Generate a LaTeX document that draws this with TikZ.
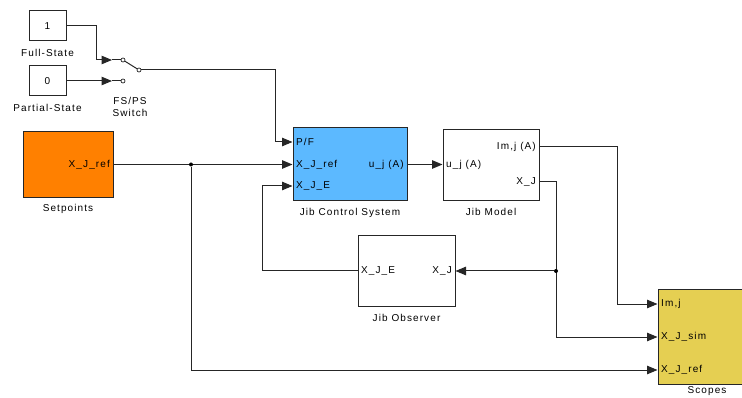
\documentclass[tikz,border=0pt]{standalone}
\usepackage{fontspec}
\setmainfont{Liberation Sans}
\newfontfamily\slfont[LetterSpace=11]{Liberation Sans}
\usetikzlibrary{arrows.meta,positioning}
\definecolor{spOrange}{RGB}{255,128,0}
\definecolor{ctrlBlue}{RGB}{92,185,255}
\definecolor{scopeYellow}{RGB}{229,207,82}
\tikzset{
  blk/.style={draw=black!85,line width=1pt,inner sep=0pt,font=\slfont\fontsize{10}{11}\selectfont},
  sig/.style={draw=black!85,line width=1pt,-{Triangle[length=10.5pt,width=8.5pt]}},
  wire/.style={draw=black!85,line width=1pt},
  port/.style={inner sep=3.5pt,font=\slfont\fontsize{10}{11}\selectfont},
  blklabel/.style={inner sep=1pt,font=\slfont\fontsize{10}{12}\selectfont},
  swpin/.style={circle,draw=black!85,line width=0.7pt,fill=white,inner sep=0pt,minimum size=4pt},
  jdot/.style={circle,fill=black,inner sep=0pt,minimum size=4pt}
}
\begin{document}
\begin{tikzpicture}[x=1pt,y=-1pt]
\clip (0,0) rectangle (742,398);
\node[blk,minimum width=37pt,minimum height=30pt] (full) at (47.5,26) {1};
\node[blk,minimum width=37pt,minimum height=30pt] (partial) at (47.5,81) {0};
\node[blklabel,below=7pt of full] {Full-State};
\node[blklabel,below=7pt of partial] {Partial-State};
\coordinate (sw-in1) at (112,60);
\coordinate (sw-in2) at (112,81);
\node[swpin] (sw-p1) at (123,60) {};
\node[swpin] (sw-p2) at (123,81) {};
\node[swpin] (sw-out) at (139,70) {};
\node[blklabel,align=center] (sw-lbl) at (130,106.5) {FS/PS\\Switch};
\node[blk,fill=spOrange,minimum width=90pt,minimum height=66pt] (sp) at (68,165) {};
\node[blklabel,below=5pt of sp] {Setpoints};
\node[blk,fill=ctrlBlue,minimum width=114pt,minimum height=73pt] (jcs) at (350,164.5) {};
\node[blklabel,below=6pt of jcs] {Jib Control System};
\node[blk,fill=white,minimum width=96pt,minimum height=71pt] (jm) at (491,165.5) {};
\node[blklabel,below=6pt of jm] {Jib Model};
\node[blk,fill=white,minimum width=97pt,minimum height=71pt] (jo) at (406.5,271) {};
\node[blklabel,below=6pt of jo] {Jib Observer};
\node[blk,fill=scopeYellow,minimum width=98pt,minimum height=94pt] (sc) at (707,337) {};
\node[blklabel,below=0.5pt of sc] {Scopes};
\node[port,anchor=east] (sp-ref) at (sp.east |- 0,164.5) {X\_J\_ref};
\node[port,anchor=west] (jcs-pf) at (jcs.west |- 0,142) {P/F};
\node[port,anchor=west] (jcs-ref) at (jcs.west |- 0,164.5) {X\_J\_ref};
\node[port,anchor=west] (jcs-e) at (jcs.west |- 0,186) {X\_J\_E};
\node[port,anchor=east] (jcs-u) at (jcs.east |- 0,164.5) {u\_j (A)};
\node[port,anchor=west] (jm-u) at (jm.west |- 0,164.5) {u\_j (A)};
\node[port,anchor=east] (jm-im) at (jm.east |- 0,147) {Im,j (A)};
\node[port,anchor=east] (jm-x) at (jm.east |- 0,182) {X\_J};
\node[port,anchor=west] (jo-e) at (jo.west |- 0,271) {X\_J\_E};
\node[port,anchor=east] (jo-x) at (jo.east |- 0,271) {X\_J};
\node[port,anchor=west] (sc-im) at (sc.west |- 0,304) {Im,j};
\node[port,anchor=west] (sc-sim) at (sc.west |- 0,337) {X\_J\_sim};
\node[port,anchor=west] (sc-ref) at (sc.west |- 0,370) {X\_J\_ref};
\draw[sig] (full.east) -- ++(30,0) |- (sw-in1);
\draw[sig] (partial.east) -- (sw-in2);
\draw[wire] (sw-in1) -- (sw-p1);
\draw[wire] (sw-in2) -- (sw-p2);
\draw[wire] (sw-p1) -- (sw-out);
\draw[sig] (sw-out) -- ++(136,0) |- (jcs-pf.west);
\draw[sig] (sp-ref.east) -- (jcs-ref.west);
\node[jdot] (j1) at (191,164.5) {};
\draw[sig] (j1) |- (sc-ref.west);
\draw[sig] (jcs-u.east) -- (jm-u.west);
\draw[sig] (jm-im.east) -- ++(78,0) |- (sc-im.west);
\draw[sig] (jm-x.east) -- ++(17,0) |- (sc-sim.west);
\node[jdot] (j2) at (556,271) {};
\draw[sig] (j2) -- (jo-x.east);
\draw[sig] (jo-e.west) -- ++(-95,0) |- (jcs-e.west);
\end{tikzpicture}
\end{document}
